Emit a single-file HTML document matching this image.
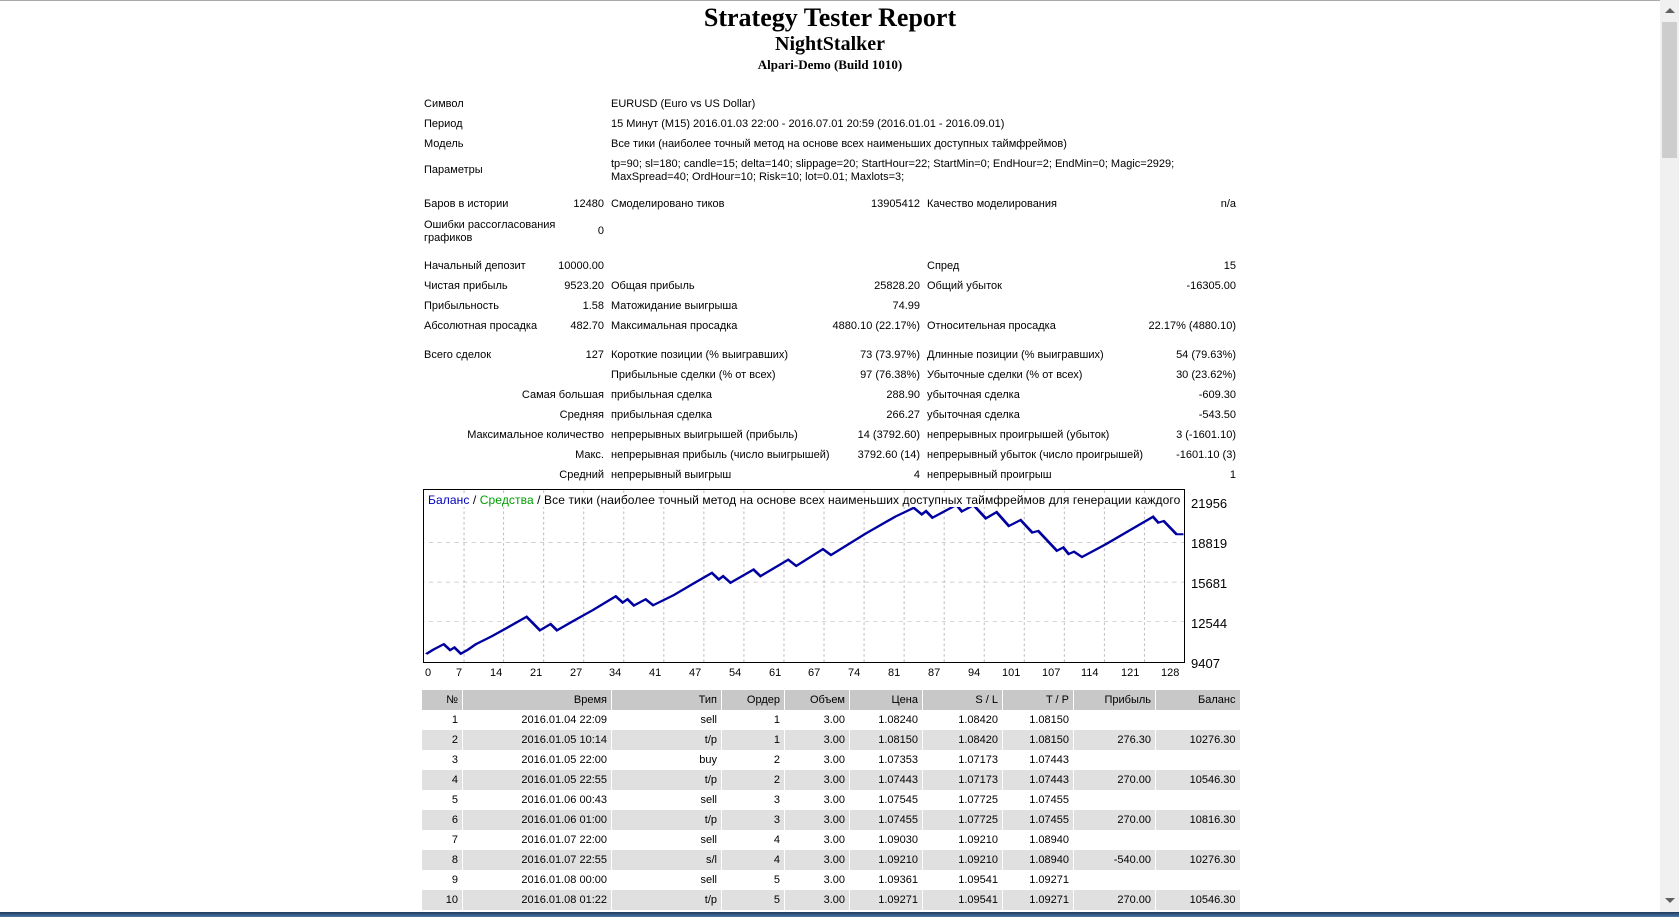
<!DOCTYPE html>
<html><head><meta charset="utf-8"><style>
body{margin:0;width:1679px;height:917px;background:#fff;position:relative;overflow:hidden;font-family:"Liberation Sans","DejaVu Sans",sans-serif;color:#000}
.a{position:absolute;white-space:nowrap;font-size:11px;line-height:13px}
.r{text-align:right}
.t{position:absolute;left:0;width:1660px;text-align:center;font-family:"Liberation Serif",serif;font-weight:bold}
.w{position:absolute;left:0;top:2px;width:1679px;height:500px}
table{position:absolute;left:421px;top:690px;border-collapse:collapse;font-size:11px;table-layout:fixed;width:818px}
td{height:20px;padding:0 4px 0 0;text-align:right;white-space:nowrap;border-left:1px solid #fff}
tr.h td{background:#c8c8c8}
tr.e td{background:#e0e0e0}
</style></head><body>
<div style="position:absolute;left:0;top:0;width:1679px;height:1px;background:#aaa"></div>
<div class="t" style="top:3px;font-size:26px">Strategy Tester Report</div>
<div class="t" style="top:33px;font-size:20px">NightStalker</div>
<div class="t" style="top:57px;font-size:13px">Alpari-Demo (Build 1010)</div>
<div class="w">
<div class="a" style="left:424px;top:96px">Символ</div><div class="a" style="left:611px;top:96px">EURUSD (Euro vs US Dollar)</div>
<div class="a" style="left:424px;top:116px">Период</div><div class="a" style="left:611px;top:116px">15 Минут (M15) 2016.01.03 22:00 - 2016.07.01 20:59 (2016.01.01 - 2016.09.01)</div>
<div class="a" style="left:424px;top:136px">Модель</div><div class="a" style="left:611px;top:136px">Все тики (наиболее точный метод на основе всех наименьших доступных таймфреймов)</div>
<div class="a" style="left:424px;top:162px">Параметры</div><div class="a" style="left:611px;top:156px">tp=90; sl=180; candle=15; delta=140; slippage=20; StartHour=22; StartMin=0; EndHour=2; EndMin=0; Magic=2929;<br>MaxSpread=40; OrdHour=10; Risk=10; lot=0.01; Maxlots=3;</div>

<div class="a" style="left:424px;top:196px">Баров в истории</div><div class="a r" style="left:540px;width:64px;top:196px">12480</div>
<div class="a" style="left:611px;top:196px">Смоделировано тиков</div><div class="a r" style="left:820px;width:100px;top:196px">13905412</div>
<div class="a" style="left:927px;top:196px">Качество моделирования</div><div class="a r" style="left:1136px;width:100px;top:196px">n/a</div>
<div class="a" style="left:424px;top:217px">Ошибки рассогласования<br>графиков</div><div class="a r" style="left:540px;width:64px;top:223px">0</div>

<div class="a" style="left:424px;top:258px">Начальный депозит</div><div class="a r" style="left:520px;width:84px;top:258px">10000.00</div>
<div class="a" style="left:927px;top:258px">Спред</div><div class="a r" style="left:1136px;width:100px;top:258px">15</div>
<div class="a" style="left:424px;top:278px">Чистая прибыль</div><div class="a r" style="left:520px;width:84px;top:278px">9523.20</div>
<div class="a" style="left:611px;top:278px">Общая прибыль</div><div class="a r" style="left:820px;width:100px;top:278px">25828.20</div>
<div class="a" style="left:927px;top:278px">Общий убыток</div><div class="a r" style="left:1136px;width:100px;top:278px">-16305.00</div>
<div class="a" style="left:424px;top:298px">Прибыльность</div><div class="a r" style="left:520px;width:84px;top:298px">1.58</div>
<div class="a" style="left:611px;top:298px">Матожидание выигрыша</div><div class="a r" style="left:820px;width:100px;top:298px">74.99</div>
<div class="a" style="left:424px;top:318px">Абсолютная просадка</div><div class="a r" style="left:520px;width:84px;top:318px">482.70</div>
<div class="a" style="left:611px;top:318px">Максимальная просадка</div><div class="a r" style="left:800px;width:120px;top:318px">4880.10 (22.17%)</div>
<div class="a" style="left:927px;top:318px">Относительная просадка</div><div class="a r" style="left:1116px;width:120px;top:318px">22.17% (4880.10)</div>

<div class="a" style="left:424px;top:347px">Всего сделок</div><div class="a r" style="left:520px;width:84px;top:347px">127</div>
<div class="a" style="left:611px;top:347px">Короткие позиции (% выигравших)</div><div class="a r" style="left:800px;width:120px;top:347px">73 (73.97%)</div>
<div class="a" style="left:927px;top:347px">Длинные позиции (% выигравших)</div><div class="a r" style="left:1116px;width:120px;top:347px">54 (79.63%)</div>
<div class="a" style="left:611px;top:367px">Прибыльные сделки (% от всех)</div><div class="a r" style="left:800px;width:120px;top:367px">97 (76.38%)</div>
<div class="a" style="left:927px;top:367px">Убыточные сделки (% от всех)</div><div class="a r" style="left:1116px;width:120px;top:367px">30 (23.62%)</div>
<div class="a r" style="left:424px;width:180px;top:387px">Самая большая</div><div class="a" style="left:611px;top:387px">прибыльная сделка</div><div class="a r" style="left:800px;width:120px;top:387px">288.90</div>
<div class="a" style="left:927px;top:387px">убыточная сделка</div><div class="a r" style="left:1116px;width:120px;top:387px">-609.30</div>
<div class="a r" style="left:424px;width:180px;top:407px">Средняя</div><div class="a" style="left:611px;top:407px">прибыльная сделка</div><div class="a r" style="left:800px;width:120px;top:407px">266.27</div>
<div class="a" style="left:927px;top:407px">убыточная сделка</div><div class="a r" style="left:1116px;width:120px;top:407px">-543.50</div>
<div class="a r" style="left:424px;width:180px;top:427px">Максимальное количество</div><div class="a" style="left:611px;top:427px">непрерывных выигрышей (прибыль)</div><div class="a r" style="left:800px;width:120px;top:427px">14 (3792.60)</div>
<div class="a" style="left:927px;top:427px">непрерывных проигрышей (убыток)</div><div class="a r" style="left:1116px;width:120px;top:427px">3 (-1601.10)</div>
<div class="a r" style="left:424px;width:180px;top:447px">Макс.</div><div class="a" style="left:611px;top:447px">непрерывная прибыль (число выигрышей)</div><div class="a r" style="left:800px;width:120px;top:447px">3792.60 (14)</div>
<div class="a" style="left:927px;top:447px">непрерывный убыток (число проигрышей)</div><div class="a r" style="left:1116px;width:120px;top:447px">-1601.10 (3)</div>
<div class="a r" style="left:424px;width:180px;top:467px">Средний</div><div class="a" style="left:611px;top:467px">непрерывный выигрыш</div><div class="a r" style="left:800px;width:120px;top:467px">4</div>
<div class="a" style="left:927px;top:467px">непрерывный проигрыш</div><div class="a r" style="left:1116px;width:120px;top:467px">1</div>
</div>

<div style="position:absolute;left:423px;top:489px;width:762px;height:174px;border:1px solid #000;box-sizing:border-box;overflow:hidden">
<svg width="760" height="172" viewBox="23 31 1423 521" preserveAspectRatio="none" style="position:absolute;left:0;top:0">
<g stroke="#c0c0c0" stroke-width="2" stroke-dasharray="8,8" fill="none">
<path d="M0 190H1450M0 310H1450M0 430H1450"/>
<path d="M98 0V560M172 0V560M247 0V560M322 0V560M397 0V560M472 0V560M547 0V560M622 0V560M697 0V560M772 0V560M847 0V560M922 0V560M997 0V560M1072 0V560M1147 0V560M1222 0V560M1297 0V560M1372 0V560"/>
</g>
<polyline fill="none" stroke="#0000a0" stroke-width="6" points="27,528 40,515 60,498 72,516 80,508 92,527 105,515 120,498 150,474 180,447 215,415 240,456 260,437 272,456 300,430 340,394 382,353 395,372 404,362 416,381 438,362 452,380 490,350 530,312 562,282 575,302 583,292 597,312 640,272 653,292 705,242 720,261 770,210 785,228 850,163 905,112 940,85 955,105 963,95 975,115 1020,76 1030,96 1052,77 1075,117 1095,98 1118,140 1140,122 1162,160 1173,155 1208,215 1220,205 1230,225 1240,218 1255,234 1300,195 1388,112 1398,130 1408,125 1432,165 1445,165"/>
</svg>
<div style="position:absolute;left:4px;top:3px;font-size:12px;letter-spacing:0.1px;white-space:nowrap;background:#fff"><span style="color:#0000c0">Баланс</span> / <span style="color:#00a000">Средства</span> / Все тики (наиболее точный метод на основе всех наименьших доступных таймфреймов для генерации каждого тика)</div>
</div>
<div class="a" style="left:1191px;top:497px;font-size:13px">21956</div>
<div class="a" style="left:1191px;top:537px;font-size:13px">18819</div>
<div class="a" style="left:1191px;top:577px;font-size:13px">15681</div>
<div class="a" style="left:1191px;top:617px;font-size:13px">12544</div>
<div class="a" style="left:1191px;top:657px;font-size:13px">9407</div>
<div style="position:absolute;top:667px;left:0;font-size:13px;line-height:15px">
<span class="a" style="left:425px">0</span><span class="a" style="left:456px">7</span><span class="a" style="left:490px">14</span><span class="a" style="left:530px">21</span><span class="a" style="left:570px">27</span><span class="a" style="left:609px">34</span><span class="a" style="left:649px">41</span><span class="a" style="left:689px">47</span><span class="a" style="left:729px">54</span><span class="a" style="left:769px">61</span><span class="a" style="left:808px">67</span><span class="a" style="left:848px">74</span><span class="a" style="left:888px">81</span><span class="a" style="left:928px">87</span><span class="a" style="left:968px">94</span><span class="a" style="left:1002px">101</span><span class="a" style="left:1042px">107</span><span class="a" style="left:1081px">114</span><span class="a" style="left:1121px">121</span><span class="a" style="left:1161px">128</span>
</div>

<table>
<colgroup><col style="width:41px"><col style="width:149px"><col style="width:110px"><col style="width:63px"><col style="width:65px"><col style="width:73px"><col style="width:80px"><col style="width:71px"><col style="width:82px"><col style="width:84px"></colgroup>
<tr class="h"><td>№</td><td>Время</td><td>Тип</td><td>Ордер</td><td>Объем</td><td>Цена</td><td>S / L</td><td>T / P</td><td>Прибыль</td><td>Баланс</td></tr>
<tr><td>1</td><td>2016.01.04 22:09</td><td>sell</td><td>1</td><td>3.00</td><td>1.08240</td><td>1.08420</td><td>1.08150</td><td></td><td></td></tr>
<tr class="e"><td>2</td><td>2016.01.05 10:14</td><td>t/p</td><td>1</td><td>3.00</td><td>1.08150</td><td>1.08420</td><td>1.08150</td><td>276.30</td><td>10276.30</td></tr>
<tr><td>3</td><td>2016.01.05 22:00</td><td>buy</td><td>2</td><td>3.00</td><td>1.07353</td><td>1.07173</td><td>1.07443</td><td></td><td></td></tr>
<tr class="e"><td>4</td><td>2016.01.05 22:55</td><td>t/p</td><td>2</td><td>3.00</td><td>1.07443</td><td>1.07173</td><td>1.07443</td><td>270.00</td><td>10546.30</td></tr>
<tr><td>5</td><td>2016.01.06 00:43</td><td>sell</td><td>3</td><td>3.00</td><td>1.07545</td><td>1.07725</td><td>1.07455</td><td></td><td></td></tr>
<tr class="e"><td>6</td><td>2016.01.06 01:00</td><td>t/p</td><td>3</td><td>3.00</td><td>1.07455</td><td>1.07725</td><td>1.07455</td><td>270.00</td><td>10816.30</td></tr>
<tr><td>7</td><td>2016.01.07 22:00</td><td>sell</td><td>4</td><td>3.00</td><td>1.09030</td><td>1.09210</td><td>1.08940</td><td></td><td></td></tr>
<tr class="e"><td>8</td><td>2016.01.07 22:55</td><td>s/l</td><td>4</td><td>3.00</td><td>1.09210</td><td>1.09210</td><td>1.08940</td><td>-540.00</td><td>10276.30</td></tr>
<tr><td>9</td><td>2016.01.08 00:00</td><td>sell</td><td>5</td><td>3.00</td><td>1.09361</td><td>1.09541</td><td>1.09271</td><td></td><td></td></tr>
<tr class="e"><td>10</td><td>2016.01.08 01:22</td><td>t/p</td><td>5</td><td>3.00</td><td>1.09271</td><td>1.09541</td><td>1.09271</td><td>270.00</td><td>10546.30</td></tr>
</table>

<div style="position:absolute;left:1660px;top:0;width:19px;height:912px;background:#f0f0f0"></div>
<div style="position:absolute;left:1662px;top:22px;width:15px;height:136px;background:#cdcdcd"></div>
<div style="position:absolute;left:1665px;top:8px;width:0;height:0;border-left:5px solid transparent;border-right:5px solid transparent;border-bottom:5px solid #606060"></div>
<div style="position:absolute;left:1665px;top:898px;width:0;height:0;border-left:5px solid transparent;border-right:5px solid transparent;border-top:5px solid #606060"></div>
<div style="position:absolute;left:0;top:912px;width:1679px;height:5px;background:linear-gradient(#1c3a5c,#4a78a8)"></div>
</body></html>
